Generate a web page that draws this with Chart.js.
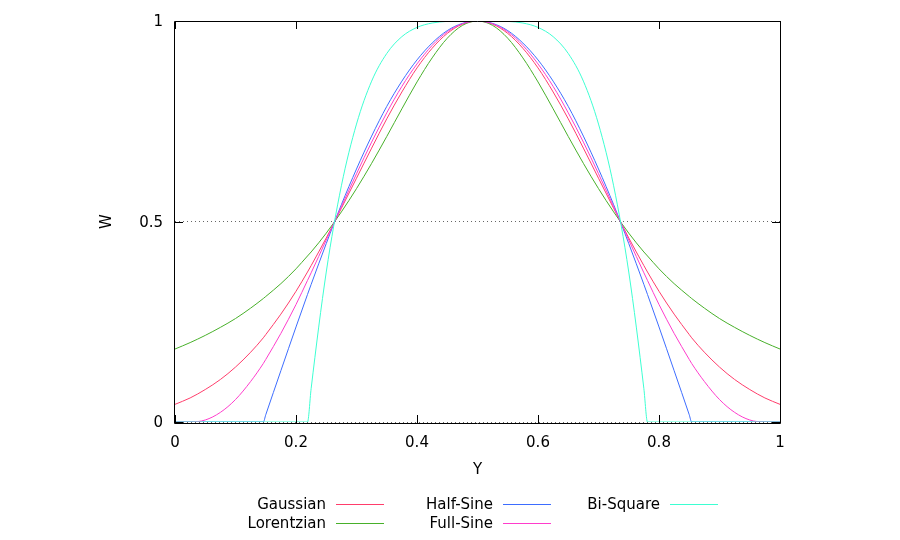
<!DOCTYPE html>
<html>
<head>
<meta charset="utf-8">
<script src="https://cdn.jsdelivr.net/npm/chart.js@4/dist/chart.umd.min.js"></script>
<style>
  html, body { margin: 0; padding: 0; background: #fff; }
  #weights { display: block; }
</style>
</head>
<body>
<canvas id="weights" width="900" height="540"></canvas>
<script>
const yPos = [0, 0.025, 0.05, 0.075, 0.1, 0.125, 0.146, 0.15, 0.175, 0.2, 0.219, 0.225,
  0.25, 0.275, 0.3, 0.325, 0.35, 0.375, 0.4, 0.425, 0.45, 0.475, 0.5,
  0.525, 0.55, 0.575, 0.6, 0.625, 0.65, 0.675, 0.7, 0.725, 0.75, 0.775, 0.781,
  0.8, 0.825, 0.85, 0.854, 0.875, 0.9, 0.925, 0.95, 0.975, 1]

const gaussian = [0.044, 0.060, 0.081, 0.106, 0.137, 0.174, 0.210, 0.218, 0.269, 0.326, 0.374, 0.390,
  0.459, 0.533, 0.608, 0.683, 0.756, 0.823, 0.883, 0.932, 0.969, 0.992, 1,
  0.992, 0.969, 0.932, 0.883, 0.823, 0.756, 0.683, 0.608, 0.533, 0.459, 0.390, 0.374,
  0.326, 0.269, 0.218, 0.210, 0.174, 0.137, 0.106, 0.081, 0.060, 0.044]

const lorentzian = [0.182, 0.198, 0.216, 0.236, 0.258, 0.284, 0.308, 0.313, 0.345, 0.382, 0.414, 0.424,
  0.471, 0.524, 0.582, 0.645, 0.712, 0.781, 0.848, 0.908, 0.957, 0.989, 1,
  0.989, 0.957, 0.908, 0.848, 0.781, 0.712, 0.645, 0.582, 0.524, 0.471, 0.424, 0.414,
  0.382, 0.345, 0.313, 0.308, 0.284, 0.258, 0.236, 0.216, 0.198, 0.182]

const halfSine = [0, 0, 0, 0, 0, 0, 0, 0.018, 0.128, 0.237, 0.318, 0.343,
  0.445, 0.542, 0.631, 0.713, 0.787, 0.850, 0.903, 0.945, 0.976, 0.994, 1,
  0.994, 0.976, 0.945, 0.903, 0.850, 0.787, 0.713, 0.631, 0.542, 0.445, 0.343, 0.318,
  0.237, 0.128, 0.018, 0, 0, 0, 0, 0, 0, 0]

const fullSine = [0, 0, 0.005, 0.024, 0.056, 0.101, 0.146, 0.156, 0.221, 0.293, 0.353, 0.372,
  0.454, 0.537, 0.619, 0.698, 0.771, 0.837, 0.893, 0.939, 0.973, 0.993, 1,
  0.993, 0.973, 0.939, 0.893, 0.837, 0.771, 0.698, 0.619, 0.537, 0.454, 0.372, 0.353,
  0.293, 0.221, 0.156, 0.146, 0.101, 0.056, 0.024, 0.005, 0, 0]

const biSquare = [0, 0, 0, 0, 0, 0, 0, 0, 0, 0, 0, 0.083,
  0.374, 0.589, 0.743, 0.850, 0.919, 0.961, 0.984, 0.995, 0.999, 1.000, 1,
  1.000, 0.999, 0.995, 0.984, 0.961, 0.919, 0.850, 0.743, 0.589, 0.374, 0.083, 0,
  0, 0, 0, 0, 0, 0, 0, 0, 0, 0]

const seriesNames = ['Gaussian', 'Lorentzian', 'Half-Sine', 'Full-Sine', 'Bi-Square']
const seriesValues = [gaussian, lorentzian, halfSine, fullSine, biSquare]
const seriesColors = ['#ff3d6b', '#48b02a', '#3d6dff', '#ff3dcc', '#3dffd2']

Chart.defaults.font.family = "'DejaVu Sans', sans-serif"
Chart.defaults.font.size = 15
Chart.defaults.color = '#000'

const toPoints = (vals) => vals.map((v, i) => ({ x: yPos[i], y: v }))
const tickText = (v) => String(Math.round(v * 100) / 100)

const datasets = seriesNames.map((name, i) => ({
  label: name,
  data: toPoints(seriesValues[i]),
  borderColor: seriesColors[i],
  backgroundColor: seriesColors[i],
  borderWidth: 1,
  pointRadius: 0,
  fill: false,
  cubicInterpolationMode: 'monotone',
  order: seriesNames.length - i
}))

// gnuplot style: box border, inward ticks on all sides, titles, legend underneath
const gnuFrame = {
  id: 'gnuFrame',
  afterDatasetsDraw(chart) {
    const ctx = chart.ctx
    const a = chart.chartArea
    const xs = chart.scales.x
    const ys = chart.scales.y
    ctx.save()
    ctx.strokeStyle = '#000'
    ctx.lineWidth = 1
    ctx.beginPath()
    ctx.rect(a.left - 0.5, a.top + 0.5, a.right - a.left + 1, a.bottom - a.top + 1)
    ctx.stroke()
    ctx.beginPath()
    xs.ticks.forEach(t => {
      const px = Math.round(xs.getPixelForValue(t.value)) + 0.5
      ctx.moveTo(px, a.bottom + 1)
      ctx.lineTo(px, a.bottom - 7)
      ctx.moveTo(px, a.top)
      ctx.lineTo(px, a.top + 8)
    })
    ys.ticks.forEach(t => {
      const py = Math.round(ys.getPixelForValue(t.value)) + 0.5
      ctx.moveTo(a.left, py)
      ctx.lineTo(a.left + 8, py)
      ctx.moveTo(a.right, py)
      ctx.lineTo(a.right - 8, py)
    })
    ctx.stroke()
    ctx.restore()
  },
  afterDraw(chart) {
    const ctx = chart.ctx
    const a = chart.chartArea
    ctx.save()
    ctx.fillStyle = '#000'
    ctx.font = "15px 'DejaVu Sans', sans-serif"
    ctx.textAlign = 'center'
    ctx.textBaseline = 'middle'
    ctx.fillText('Y', (a.left + a.right) / 2, 470)
    ctx.save()
    ctx.translate(107, (a.top + a.bottom) / 2)
    ctx.rotate(-Math.PI / 2)
    ctx.fillText('W', 0, 0)
    ctx.restore()

    // legend, column by column, two rows
    ctx.textAlign = 'right'
    chart.data.datasets.forEach((ds, i) => {
      const col = Math.floor(i / 2)
      const row = i % 2
      const tx = 326 + col * 167
      const ty = 504 + row * 19
      ctx.fillStyle = '#000'
      ctx.fillText(ds.label, tx, ty + 1.5)
      ctx.strokeStyle = ds.borderColor
      ctx.lineWidth = 1
      ctx.beginPath()
      ctx.moveTo(tx + 10, ty + 0.5)
      ctx.lineTo(tx + 58, ty + 0.5)
      ctx.stroke()
    })
    ctx.restore()
  }
}

new Chart(document.querySelector('#weights'), {
  type: 'line',
  data: { datasets: datasets },
  options: {
    responsive: false,
    animation: false,
    layout: { padding: { top: 20, right: 120, left: 0, bottom: 0 } },
    plugins: {
      legend: { display: false },
      tooltip: { enabled: false }
    },
    scales: {
      x: {
        type: 'linear',
        min: 0,
        max: 1,
        ticks: { stepSize: 0.2, padding: 12, color: '#000', callback: tickText },
        grid: { display: false, drawTicks: false },
        border: { display: false },
        afterFit: (s) => { s.height = 118 }
      },
      y: {
        type: 'linear',
        min: 0,
        max: 1,
        ticks: { stepSize: 0.5, padding: 12, color: '#000', labelOffset: 1.5, callback: tickText },
        grid: { display: true, drawTicks: false, color: '#666', lineWidth: 1 },
        border: { display: false, dash: [1, 3] },
        afterFit: (s) => { s.width = 175 }
      }
    }
  },
  plugins: [gnuFrame]
})
</script>
</body>
</html>
